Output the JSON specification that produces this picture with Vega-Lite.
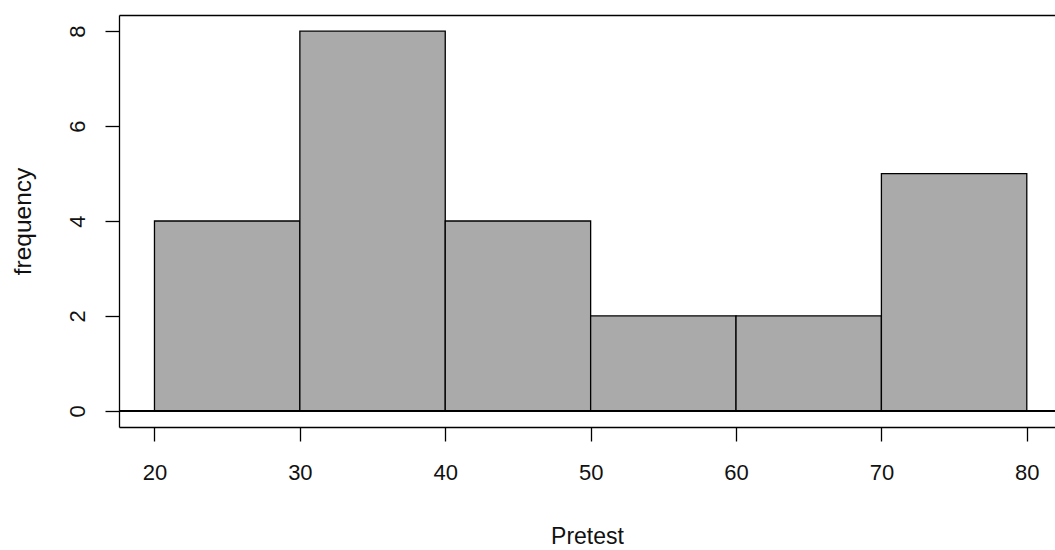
{
  "$schema": "https://vega.github.io/schema/vega-lite/v6.json",
  "autosize": {"type": "none"},
  "padding": {"left": 119, "top": 15, "right": 0, "bottom": 123},
  "width": 936,
  "height": 412,
  "background": "white",
  "config": {
    "view": {"stroke": null},
    "font": "Liberation Sans",
    "axis": {
      "grid": false,
      "domainColor": "black",
      "domainWidth": 1.3,
      "tickColor": "black",
      "tickWidth": 1.3,
      "tickSize": 14,
      "labelColor": "#111111",
      "titleColor": "#111111",
      "labelFont": "Liberation Sans",
      "titleFont": "Liberation Sans",
      "labelFontSize": 22,
      "titleFontSize": 22,
      "titleFontWeight": "normal"
    }
  },
  "data": {
    "values": [
      {"bin_start": 20, "bin_end": 30, "count": 4},
      {"bin_start": 30, "bin_end": 40, "count": 8},
      {"bin_start": 40, "bin_end": 50, "count": 4},
      {"bin_start": 50, "bin_end": 60, "count": 2},
      {"bin_start": 60, "bin_end": 70, "count": 2},
      {"bin_start": 70, "bin_end": 80, "count": 5}
    ]
  },
  "layer": [
    {
      "mark": {"type": "rect", "fill": "#aaaaaa", "stroke": "black", "strokeWidth": 1.3},
      "encoding": {
        "x": {
          "field": "bin_start", "type": "quantitative",
          "scale": {"domain": [17.56, 81.94], "nice": false, "zero": false},
          "axis": {
            "orient": "bottom", "values": [20, 30, 40, 50, 60, 70, 80],
            "title": "Pretest", "labelPadding": 21, "titlePadding": 42,
            "titleFontSize": 23, "labelFlush": false
          }
        },
        "x2": {"field": "bin_end"},
        "y": {
          "field": "count", "type": "quantitative",
          "scale": {"domain": [-0.34, 8.34], "nice": false, "zero": false},
          "axis": {
            "values": [0, 2, 4, 6, 8], "title": "frequency",
            "labelAngle": -90, "labelAlign": "center", "labelBaseline": "middle",
            "labelPadding": 28, "titlePadding": 31, "titleFontSize": 24.5, "labelFlush": false
          }
        },
        "y2": {"datum": 0}
      }
    },
    {
      "mark": {"type": "rule", "color": "black", "strokeWidth": 1.3},
      "encoding": {"y": {"datum": 0}}
    },
    {
      "mark": {"type": "rule", "opacity": 0},
      "encoding": {
        "x": {
          "field": "bin_start", "type": "quantitative",
          "axis": {"orient": "top", "labels": false, "ticks": false, "title": null, "domain": true}
        }
      }
    }
  ],
  "resolve": {"axis": {"x": "independent"}}
}
